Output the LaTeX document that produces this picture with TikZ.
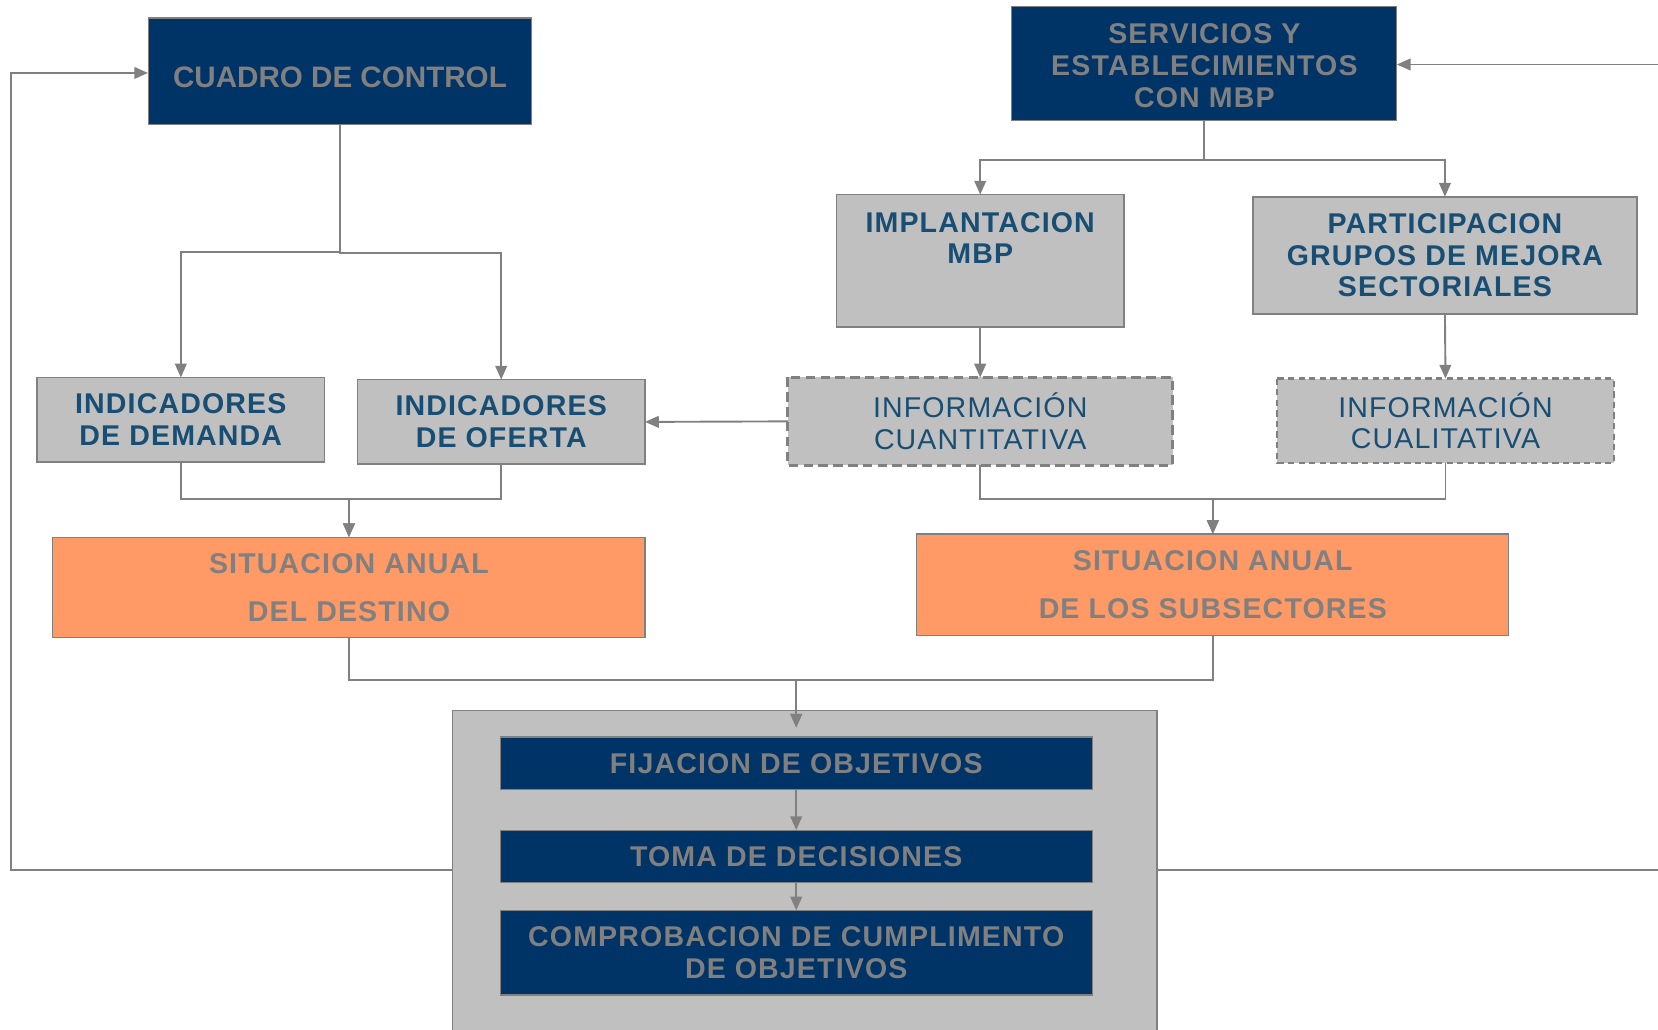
\documentclass[tikz,border=0pt]{standalone}
\usepackage{fontspec}
\setmainfont{Liberation Sans}
\newfontfamily\labfont[LetterSpace=4]{Liberation Sans}
\usetikzlibrary{arrows.meta,calc}
\definecolor{navy}{RGB}{0,51,102}
\definecolor{boxgray}{RGB}{192,192,192}
\definecolor{orng}{RGB}{255,153,102}
\definecolor{linegray}{RGB}{128,128,128}
\definecolor{txtgray}{RGB}{128,128,128}
\definecolor{txtblue}{RGB}{24,78,116}
\begin{document}
\begin{tikzpicture}[x=1pt,y=-1pt,
  box/.style={inner sep=0pt, outer sep=0pt, align=center, font=\labfont\bfseries\fontsize{27}{30}\selectfont},
  navybox/.style={box, fill=navy, draw=linegray, line width=1pt, text=txtgray},
  graybox/.style={box, fill=boxgray, draw=linegray, line width=1.6pt, text=txtblue},
  orangebox/.style={box, fill=orng, draw=linegray, line width=1pt, text=txtgray, font=\labfont\bfseries\fontsize{27}{45}\selectfont},
  conn/.style={draw=linegray, line width=1.8pt},
  arr/.style={conn, -{Triangle[length=13pt,width=11pt]}}]
\useasboundingbox (0,0) rectangle (1568,974);
\fill[white] (0,0) rectangle (1568,974);

% top boxes
\node[navybox, minimum width=363pt, minimum height=101pt] (cuadro) at (321.5,67.5) {};
\node[box, text=txtgray, font=\bfseries\fontsize{28}{30}\selectfont] (cuadroT) at (321.5,73) {CUADRO DE CONTROL};
\node[navybox, minimum width=364pt, minimum height=108pt] (serv) at (1139,60) {};
\node[box, text=txtgray] (servT) at (1139,62) {SERVICIOS Y\\ESTABLECIMIENTOS\\CON MBP};

\node[graybox, minimum width=272pt, minimum height=125pt] (impl) at (927,246.5) {};
\node[box, text=txtblue] (implT) at (927,225) {IMPLANTACION\\MBP};
\node[graybox, minimum width=363pt, minimum height=111pt] (part) at (1366.5,241.5) {PARTICIPACION\\GRUPOS DE MEJORA\\SECTORIALES};

\node[graybox, draw=none, minimum width=364pt, minimum height=83pt] (cuant) at (927,398.5) {\mdseries INFORMACIÓN\\\mdseries CUANTITATIVA};
\draw[linegray, line width=3pt, dash pattern=on 9pt off 5pt] (cuant.north west) rectangle (cuant.south east);
\node[graybox, draw=none, minimum width=318pt, minimum height=80pt] (cual) at (1367,398) {\mdseries INFORMACIÓN\\\mdseries CUALITATIVA};
\draw[linegray, line width=2pt, dash pattern=on 6pt off 4pt] (cual.north west) rectangle (cual.south east);

\node[graybox, minimum width=272pt, minimum height=80pt] (dem) at (171,397) {INDICADORES\\DE DEMANDA};
\node[graybox, minimum width=272pt, minimum height=80pt] (oferta) at (474,399) {INDICADORES\\DE OFERTA};

\node[orangebox, minimum width=560pt, minimum height=95pt] (destino) at (330,555.5) {SITUACION ANUAL\\DEL DESTINO};
\node[orangebox, minimum width=560pt, minimum height=96pt] (subs) at (1147,553) {SITUACION ANUAL\\DE LOS SUBSECTORES};

% bottom group
\node[box, fill=boxgray, draw=linegray, line width=1.6pt, minimum width=666pt, minimum height=308pt] (big) at (761,826) {};
\node[navybox, minimum width=560pt, minimum height=50pt] (fij) at (753,722) {FIJACION DE OBJETIVOS};
\node[navybox, minimum width=560pt, minimum height=50pt] (toma) at (753,810) {TOMA DE DECISIONES};
\node[navybox, minimum width=560pt, minimum height=80pt] (comp) at (753,901) {COMPROBACION DE CUMPLIMENTO\\DE OBJETIVOS};

% connectors
\draw[arr] (cuadro.south) -- ++(0,120) -| (dem.north);
\draw[arr] (cuadro.south) -- ++(0,121) -| (oferta.north);
\draw[arr] (serv.south) -- ++(0,37) -| (impl.north);
\draw[arr] (serv.south) -- ++(0,37) -| (part.north);
\draw[arr] (impl.south) -- (cuant.north);
\draw[arr] (part.south) -- (cual.north);
\draw[arr] (cuant.west) -- (oferta.east);
\draw[arr] (dem.south) -- ++(0,35) -| (destino.north);
\draw[arr] (oferta.south) -- ++(0,33) -| (destino.north);
\draw[arr] (cuant.south) -- ++(0,32) -| (subs.north);
\draw[arr] (cual.south) -- ++(0,34) -| (subs.north);
\draw[arr] (destino.south) -- ++(0,40) -| ($(fij.north)+(0,-9)$);
\draw[arr] (subs.south) -- ++(0,42) -| ($(fij.north)+(0,-9)$);
\draw[arr] (fij.south) -- (toma.north);
\draw[arr] (toma.south) -- (comp.north);
\draw[arr] ([yshift=3pt]big.west) -- ++(-418,0) |- ([yshift=-1.5pt]cuadro.west);
\draw[arr] ([yshift=3pt]big.east) -- ++(482,0) |- ([yshift=-1pt]serv.east);
\end{tikzpicture}
\end{document}
